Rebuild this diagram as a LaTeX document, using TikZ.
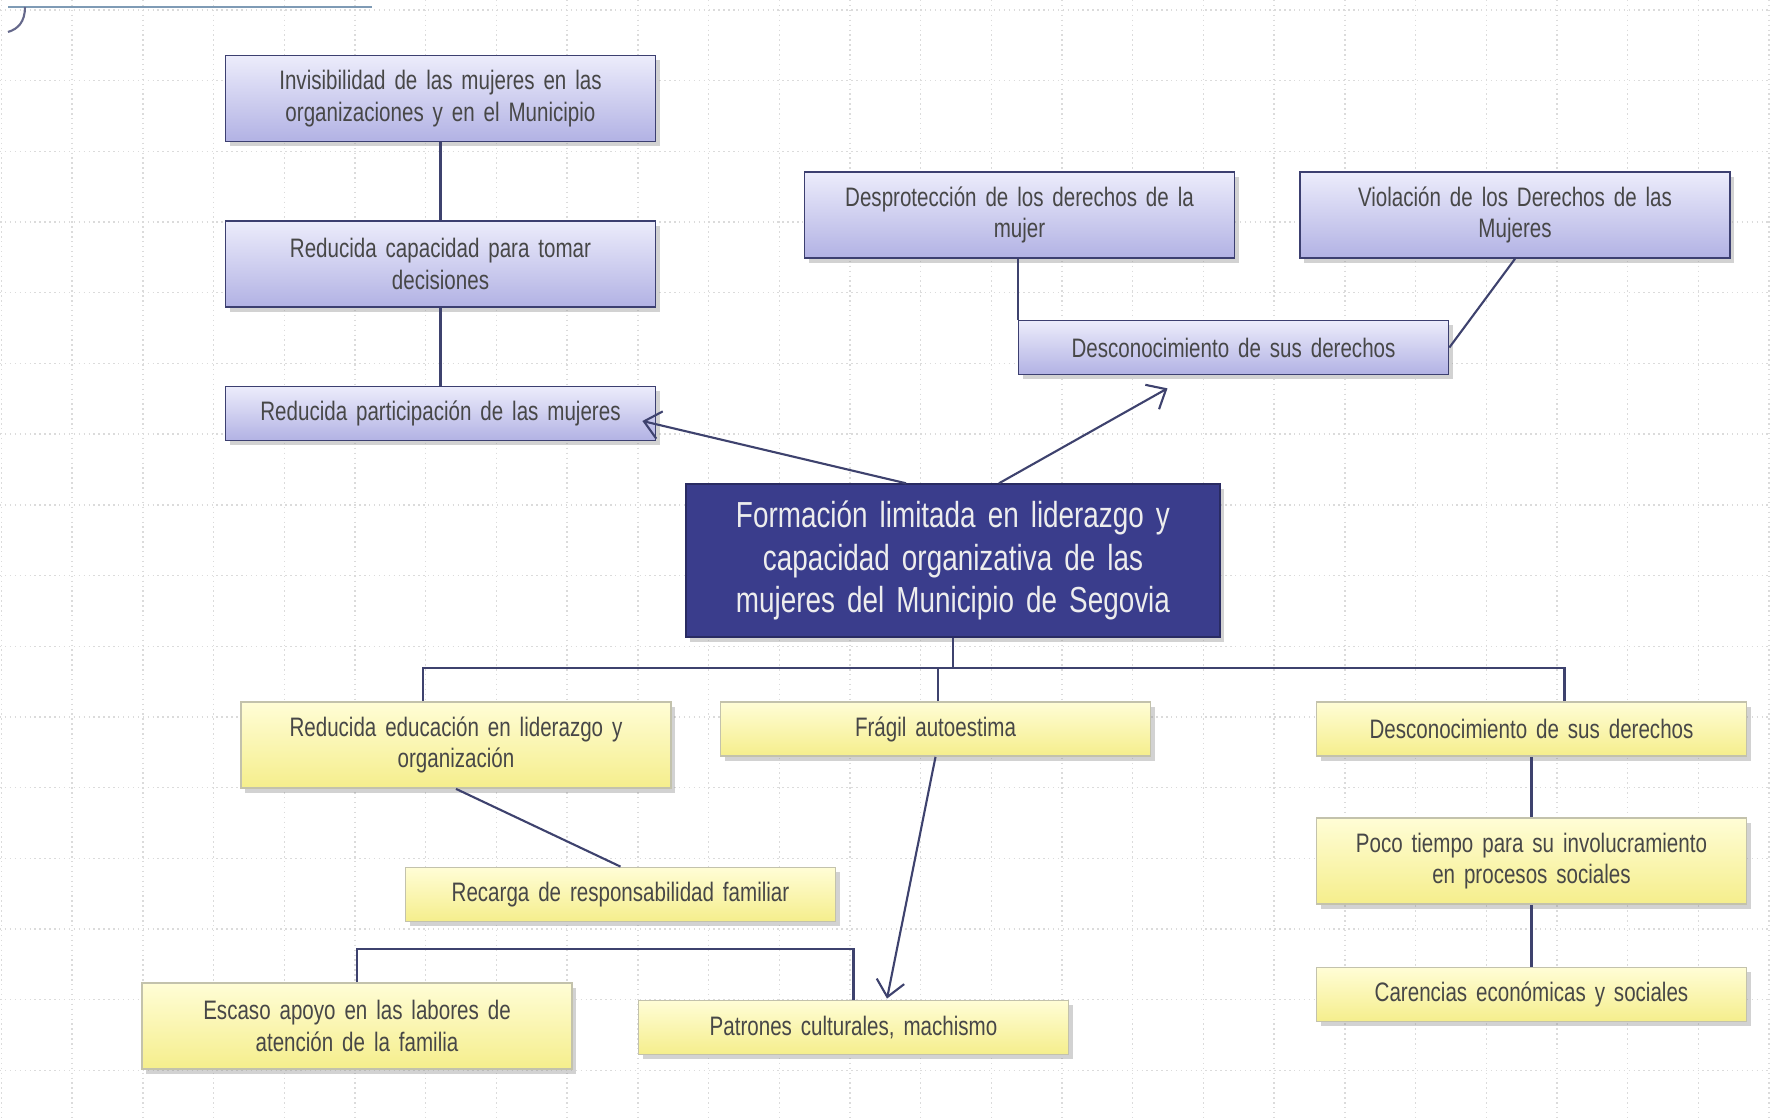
\documentclass[tikz,border=0pt]{standalone}
\usepackage{fontspec}
\newfontfamily\narrowfont[FakeStretch=0.77]{Liberation Sans}
\usetikzlibrary{arrows.meta,shadows}
\definecolor{lila}{HTML}{B2B2E4}
\definecolor{lilaclaro}{HTML}{ECECFB}
\definecolor{amarillo}{HTML}{F5EE8C}
\definecolor{amarilloclaro}{HTML}{FFFDD6}
\definecolor{marino}{HTML}{3A3D8C}
\definecolor{borde}{HTML}{3C3F70}
\definecolor{linea}{HTML}{3E426E}
\definecolor{acero}{HTML}{7F9BB5}
\tikzset{
  caja/.style={draw, line width=0.5pt, inner sep=0pt, align=center, text width=43mm,
    font=\narrowfont\fontsize{7.6}{9}\selectfont, text=black!72,
    drop shadow={shadow xshift=0.4mm, shadow yshift=-0.5mm, opacity=0.35}},
  dos/.style={minimum height=8.6mm},
  una/.style={minimum height=5.4mm},
  efecto/.style={caja, draw=borde, top color=lilaclaro, bottom color=lila},
  causa/.style={caja, draw=amarillo!50!black!45, top color=amarilloclaro, bottom color=amarillo},
  problema/.style={draw=marino!70!black, fill=marino, inner sep=0pt, align=center,
    text width=53.4mm, minimum height=15.3mm, text=white!93!black,
    font=\narrowfont\fontsize{10.3}{12}\selectfont,
    drop shadow={shadow xshift=0.4mm, shadow yshift=-0.5mm, opacity=0.35}},
  enlace/.style={draw=linea, line width=0.6pt},
  flecha/.style={enlace, -{Straight Barb[length=1.6mm,width=2.8mm]}},
  rejilla/.style={draw=gray!28, densely dotted, line width=0.4pt}
}
\begin{document}
\begin{tikzpicture}[x=0.1mm,y=-0.1mm]
\fill[white] (0,0) rectangle (1770,1120);
\useasboundingbox (0,0) rectangle (1770,1120);
% grid paper
\foreach \i in {0,...,25}
  \draw[rejilla] ({1.5+70.7*\i},0) -- ({1.5+70.7*\i},1120);
\foreach \j in {0,...,15}
  \draw[rejilla] (0,{10+70.7*\j}) -- (1770,{10+70.7*\j});
\draw[acero, line width=0.7pt] (8,7) -- (372,7);
\draw[linea!80, line width=0.6pt] (25,7) .. controls (25,22) and (18,29) .. (8,32);

% effects
\node[efecto, dos] (inv) at (440.5,98.5) {Invisibilidad de las mujeres en las\\organizaciones y en el Municipio};
\node[efecto, dos] (cap) at (440.5,264) {Reducida capacidad para tomar\\decisiones};
\node[efecto, una] (part) at (440.5,413.5) {Reducida participación de las mujeres};
\node[efecto, dos] (desp) at (1019.5,215) {Desprotección de los derechos de la\\mujer};
\node[efecto, dos] (viol) at (1515,215) {Violación de los Derechos de las\\Mujeres};
\node[efecto, una] (desc) at (1233.5,347.5) {Desconocimiento de sus derechos};

% central problem
\node[problema] (prob) at (953,560.5) {Formación limitada en liderazgo y\\capacidad organizativa de las\\mujeres del Municipio de Segovia};

% causes
\node[causa, dos] (edu) at (456,745) {Reducida educación en liderazgo y\\organización};
\node[causa, una] (fragil) at (935.5,729) {Frágil autoestima};
\node[causa, una] (descb) at (1531.5,729) {Desconocimiento de sus derechos};
\node[causa, una] (recarga) at (620.5,894.5) {Recarga de responsabilidad familiar};
\node[causa, dos] (poco) at (1531.5,861) {Poco tiempo para su involucramiento\\en procesos sociales};
\node[causa, dos] (escaso) at (357,1026) {Escaso apoyo en las labores de\\atención de la familia};
\node[causa, una] (patron) at (853.5,1027.5) {Patrones culturales, machismo};
\node[causa, una] (caren) at (1531.5,994.5) {Carencias económicas y sociales};

% upper links
\draw[enlace] (inv) -- (cap);
\draw[enlace] (cap) -- (part);
\draw[flecha] ([xshift=-4.7mm]prob.north) -- ([xshift=-1.4mm,yshift=-0.75mm]part.east);
\draw[flecha] ([xshift=4.6mm]prob.north) -- ([xshift=-6.6mm,yshift=-1.3mm]desc.south);
\draw[enlace] (desp.south -| desc.west) -- (desc.north west);
\draw[enlace] (viol.south) -- (desc.east);

% lower links
\coordinate (barra) at (953,668);
\draw[enlace] (prob.south) -- (barra);
\draw[enlace] ([xshift=-3.3mm]edu.north) |- (barra) -| ([xshift=3.3mm]descb.north);
\draw[enlace] ([xshift=0.25mm]fragil.north) -- ([xshift=0.25mm]fragil.north |- barra);
\draw[enlace] (edu.south) -- (recarga.north);
\draw[flecha] (fragil.south) -- ([xshift=3.35mm,yshift=0.1mm]patron.north);
\draw[enlace] (escaso.north) -- ++(0,-33) -| (patron.north);
\draw[enlace] (descb) -- (poco);
\draw[enlace] (poco) -- (caren);
\end{tikzpicture}
\end{document}
